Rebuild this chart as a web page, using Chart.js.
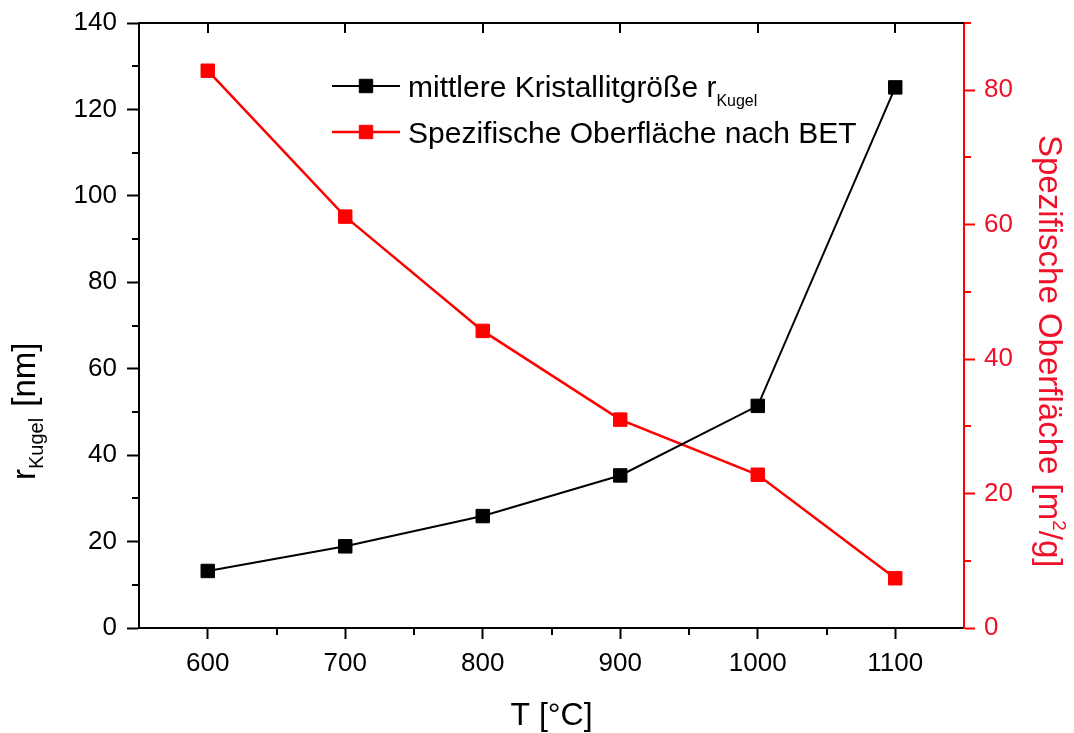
<!DOCTYPE html>
<html>
<head>
<meta charset="utf-8">
<script src="https://cdn.jsdelivr.net/npm/chart.js"></script>
<style>
  html, body { margin: 0; padding: 0; background: #ffffff; }
  #wrap { width: 1074px; height: 733px; }
</style>
</head>
<body>
<div id="wrap"><canvas id="chart" width="1074" height="733"></canvas></div>
<script>
// Calcination temperature in °C
const temperatures = [600, 700, 800, 900, 1000, 1100];
// Mean crystallite size r_Kugel in nm (left axis)
const crystalliteSize = [13.2, 18.9, 25.9, 35.3, 51.4, 125.1];
// BET specific surface area in m²/g (right axis)
const specificSurface = [82.9, 61.2, 44.2, 31.0, 22.8, 7.4];

// Axis ticks
const xMajorTicks = [600, 700, 800, 900, 1000, 1100];
const xMinorTicks = [650, 750, 850, 950, 1050];
const leftMajorTicks = [0, 20, 40, 60, 80, 100, 120, 140];
const leftMinorTicks = [10, 30, 50, 70, 90, 110, 130];
const rightMajorTicks = [0, 20, 40, 60, 80];
const rightMinorTicks = [10, 30, 50, 70, 90];

// Legend text (main part + subscript)
const legendSize = ['mittlere Kristallitgröße r', 'Kugel'];
const legendSurface = ['Spezifische Oberfläche nach BET', ''];

const FONT = '"Liberation Sans", Arial, Helvetica, sans-serif';
const BLACK = '#000000';
const RED = '#ff0000';
const RED_TEXT = '#f0102a';

const toPoints = (xs, ys) => xs.map((x, i) => ({ x: x, y: ys[i] }));
const fixedTicks = values => scale => { scale.ticks = values.map(v => ({ value: v })); };

// Draws a run of text pieces with individual size and baseline offset
function drawRich(ctx, pieces, x, y, color) {
  ctx.fillStyle = color;
  ctx.textAlign = 'left';
  ctx.textBaseline = 'alphabetic';
  let cx = x;
  pieces.forEach(p => {
    ctx.font = p.size + 'px ' + FONT;
    ctx.fillText(p.t, cx, y + (p.dy || 0));
    cx += ctx.measureText(p.t).width + (p.after || 0);
  });
}

function drawMarker(ctx, x, y, color) {
  const opts = { pointStyle: 'rect', rotation: 0, radius: 9.5, borderWidth: 1 };
  ctx.fillStyle = color;
  ctx.strokeStyle = color;
  ctx.lineWidth = 1;
  if (Chart.helpers && Chart.helpers.drawPoint) {
    Chart.helpers.drawPoint(ctx, opts, x, y);
  } else {
    ctx.fillRect(x - 7, y - 7, 14, 14);
  }
}

const decorations = {
  id: 'decorations',
  afterDraw(chart) {
    const { ctx, chartArea: a, scales } = chart;
    const sx = scales.x, sl = scales.y, sr = scales.y2;
    ctx.save();

    // minor ticks, top axis line and its inward major ticks
    ctx.lineWidth = 2;
    ctx.strokeStyle = BLACK;
    ctx.beginPath();
    xMinorTicks.forEach(v => {
      const px = Math.round(sx.getPixelForValue(v));
      ctx.moveTo(px, a.bottom); ctx.lineTo(px, a.bottom + 7);
    });
    leftMinorTicks.forEach(v => {
      const py = Math.round(sl.getPixelForValue(v));
      ctx.moveTo(a.left, py); ctx.lineTo(a.left - 7, py);
    });
    ctx.moveTo(a.left - 1, a.top); ctx.lineTo(a.right, a.top);
    xMajorTicks.forEach(v => {
      const px = Math.round(sx.getPixelForValue(v));
      ctx.moveTo(px, a.top); ctx.lineTo(px, a.top + 10);
    });
    ctx.stroke();

    ctx.strokeStyle = RED;
    ctx.beginPath();
    rightMinorTicks.forEach(v => {
      const py = Math.round(sr.getPixelForValue(v));
      ctx.moveTo(a.right, py); ctx.lineTo(a.right + 7, py);
    });
    ctx.stroke();

    // x axis title
    ctx.font = '32px ' + FONT;
    ctx.fillStyle = BLACK;
    ctx.textAlign = 'center';
    ctx.textBaseline = 'alphabetic';
    ctx.fillText('T [°C]', (a.left + a.right) / 2, 725);

    // left axis title, reading upwards
    ctx.save();
    ctx.translate(35, 480);
    ctx.rotate(-Math.PI / 2);
    drawRich(ctx, [
      { t: 'r', size: 33 },
      { t: 'Kugel', size: 20, dy: 8, after: 2 },
      { t: ' [nm]', size: 33 }
    ], 0, 0, BLACK);
    ctx.restore();

    // right axis title, reading downwards
    ctx.save();
    ctx.translate(1039, 135);
    ctx.rotate(Math.PI / 2);
    drawRich(ctx, [
      { t: 'Spezifische Oberfläche [m', size: 33 },
      { t: '2', size: 19, dy: -14 },
      { t: '/g]', size: 33 }
    ], 0, 0, RED_TEXT);
    ctx.restore();

    // legend
    const rows = [
      { y: 86, color: BLACK, lw: 2, text: legendSize },
      { y: 132, color: RED, lw: 2.5, text: legendSurface }
    ];
    rows.forEach(r => {
      ctx.strokeStyle = r.color;
      ctx.lineWidth = r.lw;
      ctx.beginPath();
      ctx.moveTo(332, r.y); ctx.lineTo(400, r.y);
      ctx.stroke();
      drawMarker(ctx, 366, r.y, r.color);
      const pieces = [{ t: r.text[0], size: 30 }];
      if (r.text[1]) pieces.push({ t: r.text[1], size: 16, dy: 9 });
      drawRich(ctx, pieces, 408, r.y + 11, BLACK);
    });

    ctx.restore();
  }
};

const tickFont = { family: FONT, size: 26, lineHeight: 1 };

new Chart(document.getElementById('chart'), {
  type: 'line',
  data: {
    datasets: [
      {
        label: legendSize.join(''),
        data: toPoints(temperatures, crystalliteSize),
        yAxisID: 'y',
        borderColor: BLACK,
        backgroundColor: BLACK,
        borderWidth: 2,
        pointStyle: 'rect',
        pointRadius: 9.5,
        pointBorderWidth: 1,
        pointBackgroundColor: BLACK,
        pointBorderColor: BLACK,
        tension: 0
      },
      {
        label: legendSurface.join(''),
        data: toPoints(temperatures, specificSurface),
        yAxisID: 'y2',
        borderColor: RED,
        backgroundColor: RED,
        borderWidth: 2.5,
        pointStyle: 'rect',
        pointRadius: 9.5,
        pointBorderWidth: 1,
        pointBackgroundColor: RED,
        pointBorderColor: RED,
        tension: 0
      }
    ]
  },
  options: {
    responsive: false,
    animation: false,
    layout: { padding: { top: 15, left: 0, right: 0, bottom: 0 } },
    plugins: { legend: { display: false }, tooltip: { enabled: false } },
    scales: {
      x: {
        type: 'linear',
        position: 'bottom',
        min: 550,
        max: 1150,
        afterBuildTicks: fixedTicks(xMajorTicks),
        afterFit: s => { s.height = 105; },
        ticks: { font: tickFont, color: BLACK, padding: 12, maxRotation: 0, callback: v => String(v) },
        grid: { drawOnChartArea: false, drawTicks: true, tickLength: 11, tickColor: BLACK, tickWidth: 2 },
        border: { display: true, color: BLACK, width: 2 }
      },
      y: {
        type: 'linear',
        position: 'left',
        min: 0,
        max: 140,
        afterBuildTicks: fixedTicks(leftMajorTicks),
        afterFit: s => { s.width = 139; },
        ticks: { font: tickFont, color: BLACK, padding: 10, callback: v => String(v) },
        grid: { drawOnChartArea: false, drawTicks: true, tickLength: 12, tickColor: BLACK, tickWidth: 2 },
        border: { display: true, color: BLACK, width: 2 }
      },
      y2: {
        type: 'linear',
        position: 'right',
        min: 0,
        max: 90,
        afterBuildTicks: fixedTicks(rightMajorTicks),
        afterFit: s => { s.width = 110; },
        ticks: { font: tickFont, color: RED_TEXT, padding: 9, callback: v => String(v) },
        grid: { drawOnChartArea: false, drawTicks: true, tickLength: 11, tickColor: RED, tickWidth: 2 },
        border: { display: true, color: RED, width: 2 }
      }
    }
  },
  plugins: [decorations]
});
</script>
</body>
</html>
